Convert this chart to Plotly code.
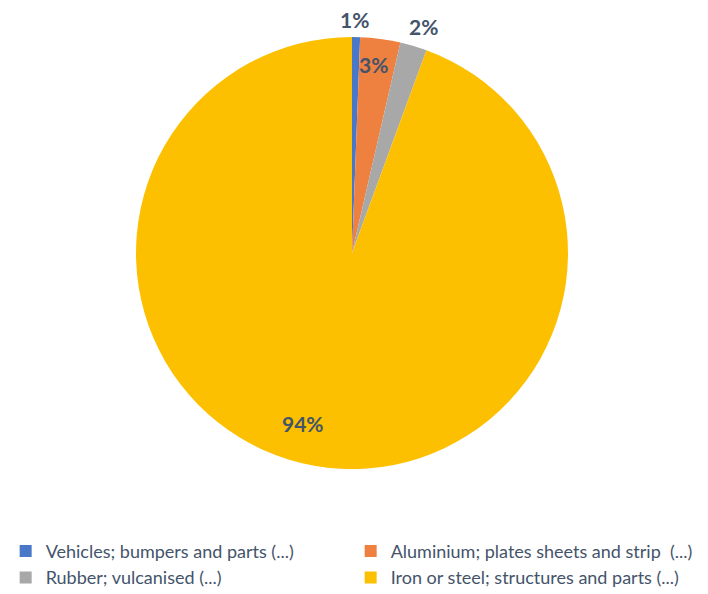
import math
import plotly.graph_objects as go

categories = [
    "Vehicles; bumpers and parts (...)",
    "Aluminium; plates sheets and strip  (...)",
    "Rubber; vulcanised (...)",
    "Iron or steel; structures and parts (...)",
]
shares = [0.6, 3.0, 2.0, 94.4]
colors = ["#4A78C9", "#EE8040", "#A8A8A8", "#FCC000"]

# label placement: distance from centre (in radii) and angular nudge (degrees)
label_radius = [1.08, 0.88, 1.10, 0.82]
label_nudge = [-0.5, -1, 1, 6]

W, H = 708, 594
cx, cy, r = 352, 253, 216

fig = go.Figure(
    go.Pie(
        labels=categories,
        values=shares,
        sort=False,
        direction="clockwise",
        rotation=0,
        marker=dict(colors=colors, line=dict(width=0)),
        textinfo="none",
        domain=dict(x=[(cx - r) / W, (cx + r) / W], y=[(H - cy - r) / H, (H - cy + r) / H]),
        hoverinfo="label+percent",
    )
)

# percentage labels at each slice's mid-angle
total = sum(shares)
cum = 0.0
for v, k, nudge in zip(shares, label_radius, label_nudge):
    mid = math.radians((cum + v / 2) / total * 360 + nudge)
    px = cx + k * r * math.sin(mid)
    py = cy - k * r * math.cos(mid)
    fig.add_annotation(
        x=px / W, y=1 - py / H, xref="paper", yref="paper",
        text=f"{round(v / total * 100)}%", showarrow=False,
        font=dict(family="Lato", size=21, color="#44546A", weight="bold"),
        xanchor="center", yanchor="middle",
    )
    cum += v

fig.update_layout(
    width=W,
    height=H,
    margin=dict(l=0, r=0, t=0, b=0, autoexpand=False),
    paper_bgcolor="white",
    showlegend=True,
    legend=dict(
        orientation="h",
        x=0.008,
        xanchor="left",
        y=0.103,
        yanchor="top",
        entrywidth=300,
        font=dict(family="Lato", size=18, color="#44546A"),
        traceorder="normal",
    ),
)

fig.write_html("out.html")
